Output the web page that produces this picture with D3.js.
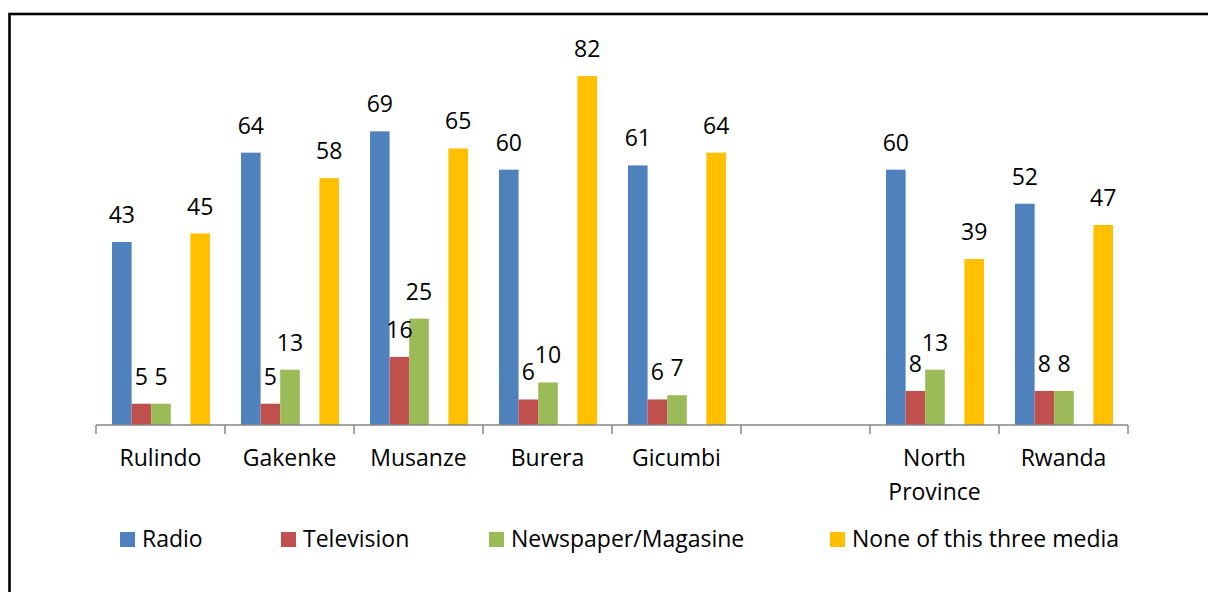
<!DOCTYPE html>
<html>
<head>
<meta charset="utf-8">
<script src="https://cdn.jsdelivr.net/npm/d3@7"></script>
<style>
  body { margin: 0; background: #fff; }
  svg text { font-family: "Open Sans", Lato, sans-serif; fill: #000; }
</style>
</head>
<body>
<svg width="1208" height="592"></svg>
<script>

var categories = ["Rulindo", "Gakenke", "Musanze", "Burera", "Gicumbi", "", "North Province", "Rwanda"];
var series = ["Radio", "Television", "Newspaper/Magasine", "None of this three media"];

var radio      = [43, 64, 69, 60, 61, null, 60, 52];
var television = [5, 5, 16, 6, 6, null, 8, 8];
var newspaper  = [5, 13, 25, 10, 7, null, 13, 8];
var noneMedia  = [45, 58, 65, 82, 64, null, 39, 47];

var colors = ["#4F81BD", "#C0504D", "#9BBB59", "#FFC000"];

// excel left an empty slot between newspaper and "none"
var slots = ["Radio", "Television", "Newspaper/Magasine", "_gap", "None of this three media"];

var fontSize = "23px";

var svg = d3.select("svg");

// outer frame
svg.append("rect")
  .attr("x", 9.5)
  .attr("y", 14)
  .attr("width", 1230)
  .attr("height", 620)
  .attr("fill", "none")
  .attr("stroke", "#000")
  .attr("stroke-width", 2.6);

var x0 = d3.scaleBand()
  .domain(categories.map(function(d, i) { return i; }))
  .range([96, 1128]);

var x1 = d3.scaleBand()
  .domain(slots)
  .range([16, x0.bandwidth() - 15]);

var y = d3.scaleLinear()
  .domain([0, 90])
  .range([425, 42]);

var values = [radio, television, newspaper, noneMedia];

var data = [];
categories.forEach(function(c, i) {
  series.forEach(function(s, j) {
    if (values[j][i] != null) data.push({cat: i, key: s, idx: j, v: values[j][i]});
  });
});

var g = svg.append("g");

g.selectAll("rect.bar")
  .data(data)
  .enter()
  .append("rect")
  .attr("class", "bar")
  .attr("x", function(d) { return x0(d.cat) + x1(d.key); })
  .attr("y", function(d) { return y(d.v); })
  .attr("width", x1.bandwidth())
  .attr("height", function(d) { return y(0) - y(d.v); })
  .attr("fill", function(d) { return colors[d.idx]; });

g.selectAll("text.val")
  .data(data)
  .enter()
  .append("text")
  .attr("class", "val")
  .attr("x", function(d) { return x0(d.cat) + x1(d.key) + x1.bandwidth() / 2; })
  .attr("y", function(d) { return y(d.v) - 19; })
  .attr("text-anchor", "middle")
  .style("font-size", fontSize)
  .text(function(d) { return d.v; });

// category axis
var axis = svg.append("g")
  .attr("transform", "translate(0," + y(0) + ")");

axis.append("line")
  .attr("x1", x0.range()[0])
  .attr("x2", x0.range()[1])
  .attr("stroke", "#868686")
  .attr("stroke-width", 1.5);

var tickPos = categories.map(function(d, i) { return x0(i); }).concat([x0.range()[1]]);

axis.selectAll("line.tick")
  .data(tickPos)
  .enter()
  .append("line")
  .attr("class", "tick")
  .attr("x1", function(d) { return d; })
  .attr("x2", function(d) { return d; })
  .attr("y1", 0)
  .attr("y2", 9)
  .attr("stroke", "#868686")
  .attr("stroke-width", 1.5);

var catLabels = axis.selectAll("text.cat")
  .data(categories)
  .enter()
  .append("text")
  .attr("class", "cat")
  .attr("text-anchor", "middle")
  .style("font-size", fontSize)
  .attr("transform", function(d, i) { return "translate(" + (x0(i) + x0.bandwidth() / 2) + ",41)"; });

catLabels.each(function(d) {
  var words = d === "North Province" ? ["North", "Province"] : [d];
  d3.select(this).selectAll("tspan")
    .data(words)
    .enter()
    .append("tspan")
    .attr("x", 0)
    .attr("dy", function(w, k) { return k ? 34 : 0; })
    .text(function(w) { return w; });
});

// legend
var legendX = [120, 281, 489, 830];

var legend = svg.selectAll("g.legend")
  .data(series)
  .enter()
  .append("g")
  .attr("class", "legend")
  .attr("transform", function(d, i) { return "translate(" + legendX[i] + ",532)"; });

legend.append("rect")
  .attr("width", 15)
  .attr("height", 15)
  .attr("fill", function(d, i) { return colors[i]; });

legend.append("text")
  .attr("x", 22)
  .attr("y", 15)
  .style("font-size", fontSize)
  .text(function(d) { return d; });

</script>
</body>
</html>
